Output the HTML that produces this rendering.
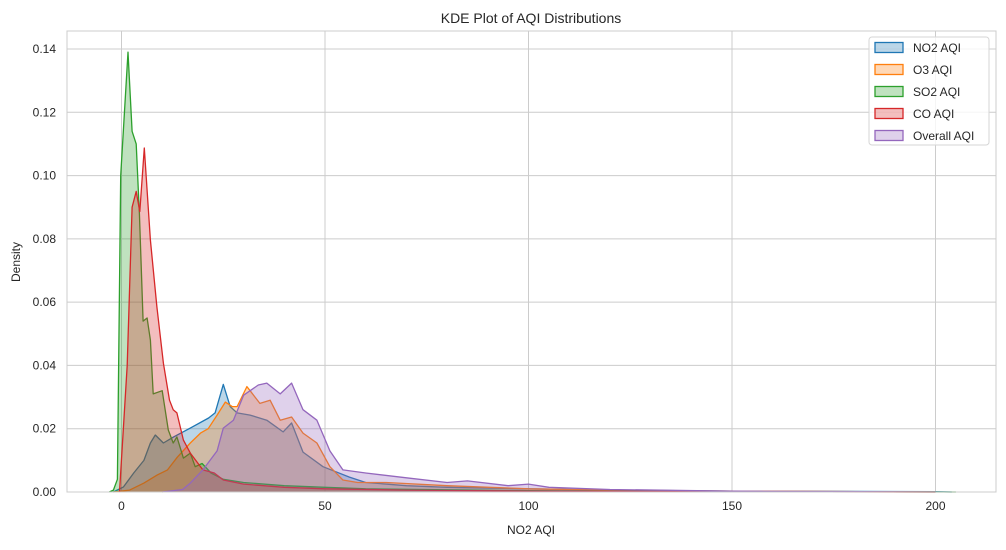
<!DOCTYPE html>
<html><head><meta charset="utf-8"><style>
body{margin:0;background:#fff;font-family:"Liberation Sans",Arial,sans-serif}
svg text{font-family:"Liberation Sans",Arial,sans-serif;fill:#262626}
</style></head><body>
<svg id="chart" width="1006" height="545" viewBox="0 0 1006 545" xmlns="http://www.w3.org/2000/svg">
<rect x="0" y="0" width="1006" height="545" fill="#fff"/>
<g id="grid"></g>
<g id="series"></g>
<rect x="67" y="31" width="929" height="461" fill="none" stroke="#cccccc" stroke-width="1"/>
<g id="axes"></g>
<text x="531" y="23" font-size="14" text-anchor="middle">KDE Plot of AQI Distributions</text>
<text x="531" y="534" font-size="12" text-anchor="middle">NO2 AQI</text>
<text x="20" y="262" font-size="12" text-anchor="middle" transform="rotate(-90 20 262)">Density</text>
<g id="legend"></g>
</svg>
<script>
const seriesNames=["NO2 AQI","O3 AQI","SO2 AQI","CO AQI","Overall AQI"];
const colors=["#1f77b4","#ff7f0e","#2ca02c","#d62728","#9467bd"];
const xTicks=[0,50,100,150,200];
const yTicks=[0,0.02,0.04,0.06,0.08,0.10,0.12,0.14];
const no2X=[-2,0.5,3,5.5,7.1,8.3,10.3,12.8,16.9,21.4,23,25,26.7,28.4,31.6,35.7,39.7,41.8,44.6,49.5,56,60,70,80,100,120,150,200,204];
const no2Y=[0,0.0016,0.006,0.010,0.0155,0.018,0.0155,0.0174,0.0202,0.0234,0.025,0.034,0.027,0.025,0.0243,0.0227,0.019,0.0218,0.0126,0.008,0.0047,0.003,0.002,0.0015,0.001,0.0006,0.0003,0.0001,0];
const o3X=[-2,2,5.5,8.8,11.3,13.7,16.9,19.4,21.3,23.5,25.5,27.2,28.4,30.8,31.6,34,36.5,39,41.8,44.6,48,51.2,54.4,58,65,80,100,130,200];
const o3Y=[0,0.0006,0.0028,0.0054,0.007,0.011,0.0155,0.0186,0.020,0.0243,0.0284,0.027,0.027,0.0333,0.032,0.028,0.029,0.0227,0.0237,0.0186,0.0155,0.008,0.0038,0.003,0.003,0.002,0.001,0.0004,0];
const so2X=[-3,-2,-1,-0.2,1.6,2.6,3.6,4.4,5.3,6.3,7.1,7.8,10,11.5,12.7,13.6,15.2,16.9,18.1,19.8,22,25,30,40,50,60,80,100,150,205];
const so2Y=[0,0.0006,0.004,0.10,0.139,0.114,0.110,0.088,0.054,0.055,0.048,0.031,0.032,0.0196,0.0155,0.0174,0.0107,0.0123,0.008,0.009,0.006,0.004,0.003,0.002,0.0015,0.001,0.0007,0.0004,0.0001,0];
const coX=[-0.5,1.4,2.6,3.6,4.5,5.6,7.1,8.7,10.3,11.8,12.7,13.6,15.2,16.9,20,22.8,25,30,40,50,70,100,150,200];
const coY=[0,0.04,0.090,0.095,0.0886,0.1087,0.0796,0.0585,0.0407,0.029,0.026,0.025,0.0164,0.0123,0.007,0.006,0.0038,0.0025,0.0015,0.001,0.0006,0.0003,0.0001,0];
const allX=[10,15,16.9,20,23.5,25,27.5,30,31.6,33.6,35.7,39,41.8,44.6,48,51.2,54.4,60,70,80,85,95,100,105,120,150,200];
const allY=[0,0.0008,0.0028,0.007,0.013,0.0202,0.0227,0.0306,0.032,0.0338,0.0344,0.031,0.0344,0.026,0.0227,0.013,0.007,0.006,0.0045,0.003,0.0035,0.002,0.0025,0.0015,0.0008,0.0003,0];
const xs=[no2X,o3X,so2X,coX,allX], ys=[no2Y,o3Y,so2Y,coY,allY];
const L=67,R=996,T=31,B=492;
const sx=v=>121.5+v*(325-121.5)/50;
const sy=v=>B-v*(B-49)/0.14;
const NS="http://www.w3.org/2000/svg";
function mk(tag,attrs,parent){const e=document.createElementNS(NS,tag);for(const k in attrs)e.setAttribute(k,attrs[k]);parent.appendChild(e);return e;}
const grid=document.getElementById('grid'),axes=document.getElementById('axes');
xTicks.forEach(t=>{const l=mk('line',{x1:sx(t),x2:sx(t),y1:T,y2:B,stroke:'#cccccc','stroke-width':1},grid);

const tx=mk('text',{x:sx(t),y:B+18,'font-size':12,'text-anchor':'middle'},axes);tx.textContent=t;
});
yTicks.forEach(t=>{const l=mk('line',{x1:L,x2:R,y1:sy(t),y2:sy(t),stroke:'#cccccc','stroke-width':1},grid);

const tx=mk('text',{x:56,y:sy(t)+4,'font-size':12,'text-anchor':'end'},axes);tx.textContent=t.toFixed(2);
});
const sg=document.getElementById('series');
seriesNames.forEach((n,i)=>{const X=xs[i],Y=ys[i];let d='';
X.forEach((x,j)=>{d+=(j?'L':'M')+sx(x).toFixed(1)+','+sy(Y[j]).toFixed(1);});
const fd=d+'L'+sx(X[X.length-1]).toFixed(1)+','+B+'L'+sx(X[0]).toFixed(1)+','+B+'Z';
const f=mk('path',{d:fd,fill:colors[i],'fill-opacity':0.3,stroke:'none'},sg);

const p=mk('path',{d:d,fill:'none',stroke:colors[i],'stroke-width':1.3,'stroke-linejoin':'round'},sg);
});
const lg=document.getElementById('legend');
const box=mk('rect',{x:869,y:37,width:120,height:108,rx:3,fill:'#fff','fill-opacity':0.8,stroke:'#d6d6d6'},lg);

seriesNames.forEach((n,i)=>{const y=47+i*22;
const r=mk('rect',{x:875,y:y-4.5,width:28,height:10,fill:colors[i],'fill-opacity':0.3,stroke:colors[i],'stroke-width':1.3},lg);

const t=mk('text',{x:913,y:y+5,'font-size':12},lg);t.textContent=n;
});
</script>
</body></html>
